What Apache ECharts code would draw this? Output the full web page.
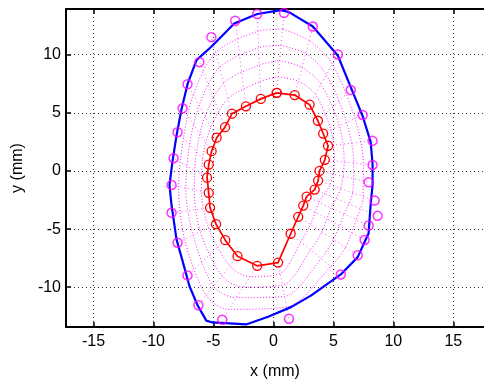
<!DOCTYPE html>
<html>
<head>
<meta charset="utf-8">
<script src="https://cdn.jsdelivr.net/npm/echarts@6/dist/echarts.min.js"></script>
<style>html,body{margin:0;padding:0;background:#fff;}#c{width:484px;height:385px;}</style>
</head>
<body>
<div id="c"></div>
<script>
// Outer boundary (blue line), x,y in mm
var outerX = [0.64,1.30,3.29,5.37,6.45,7.44,8.11,8.27,8.27,8.11,7.94,7.03,5.62,3.13,1.47,-0.44,-2.27,-5.09,-5.59,-6.33,-7.00,-7.66,-8.07,-8.49,-8.66,-8.41,-8.07,-7.66,-7.16,-6.41,-5.09,-3.26,-1.35,0.64];
var outerY = [13.83,13.66,12.42,9.93,7.21,4.73,2.50,0.60,-1.21,-2.87,-5.35,-7.41,-8.90,-10.72,-11.71,-12.54,-13.20,-13.03,-12.87,-11.54,-9.89,-7.41,-5.92,-2.95,-1.21,0.85,3.08,5.31,7.46,9.53,10.77,12.68,13.50,13.83];
// Outer measured points (magenta circles)
var ptsX = [0.89,3.29,5.37,6.45,7.44,8.27,8.27,7.94,8.44,8.69,7.94,7.61,7.03,5.62,1.30,-4.26,-6.25,-7.16,-7.99,-8.49,-8.49,-8.32,-7.99,-7.57,-7.16,-6.17,-5.17,-3.18,-1.35];
var ptsY = [13.58,12.42,10.02,6.96,4.82,2.59,0.52,-0.97,-2.54,-3.86,-4.69,-5.93,-7.25,-8.90,-12.71,-12.79,-11.55,-8.98,-6.17,-3.60,-1.21,1.10,3.33,5.39,7.46,9.36,11.51,12.92,13.50];
// Inner contour (red)
var innerX = [0.28,1.78,3.02,3.71,4.15,4.56,4.29,3.85,3.73,3.44,2.77,2.49,2.07,1.44,0.39,-1.35,-2.99,-4.01,-4.78,-5.28,-5.39,-5.53,-5.39,-5.15,-4.73,-4.03,-3.45,-2.29,-1.05,0.28];
var innerY = [6.72,6.53,5.70,4.32,3.22,2.17,0.96,0.00,-0.83,-1.60,-2.21,-2.98,-3.94,-5.40,-7.88,-8.16,-7.33,-5.95,-4.58,-3.17,-1.88,-0.58,0.55,1.70,2.86,3.77,4.93,5.56,6.20,6.72];
// Intermediate dotted contours (magenta)
var c1X = [0.4,2.1,3.5,4.8,5.1,4.7,3.8,3.1,2.3,0.6,-1.9,-3.6,-5.4,-6.0,-5.9,-5.2,-3.8,-1.1,0.4];
var c1Y = [8.1,7.7,6.6,3.5,0.9,-1.2,-2.7,-4.6,-6.1,-8.8,-9.1,-8.2,-4.9,-1.7,1.1,3.8,6.2,7.7,8.1];
var c2X = [0.5,2.4,4.0,5.5,5.9,5.6,4.8,4.0,3.1,0.8,-2.5,-4.3,-6.1,-6.6,-6.4,-5.7,-4.1,-1.2,0.5];
var c2Y = [9.5,8.9,7.4,3.9,0.8,-1.5,-3.2,-5.3,-6.8,-9.8,-10.0,-9.0,-5.2,-1.6,1.7,4.7,7.6,9.1,9.5];
var c3X = [0.6,2.7,4.4,6.1,6.7,6.6,5.9,5.0,4.0,0.9,-3.1,-5.0,-6.7,-7.3,-7.0,-6.2,-4.5,-1.2,0.6];
var c3Y = [10.8,10.1,8.3,4.2,0.7,-1.9,-3.7,-5.9,-7.5,-10.8,-10.9,-9.9,-5.5,-1.5,2.2,5.6,8.9,10.6,10.8];
var c4X = [0.8,3.0,4.9,6.8,7.5,7.5,6.9,6.0,4.8,1.1,-3.7,-5.6,-7.4,-7.9,-7.5,-6.7,-4.8,-1.3,0.8];
var c4Y = [12.2,11.2,9.2,4.5,0.6,-2.2,-4.2,-6.6,-8.2,-11.7,-11.9,-10.7,-5.9,-1.3,2.8,6.5,10.2,12.0,12.2];
var xTicks = [-15,-10,-5,0,5,10,15];
var yTicks = [-10,-5,0,5,10];

function zip(a,b){return a.map(function(v,i){return [v,b[i]];});}
var chart = echarts.init(document.getElementById('c'), null, {renderer:'canvas'});
var font = 'Liberation Sans, Arial, Helvetica, sans-serif';
var gridDot = {type:[1,3], color:'#000', width:1, opacity:0.8};
var dotted = function(d){
  return {type:'line', data:d, showSymbol:false, symbol:'none', smooth:0.3, z:1,
    lineStyle:{color:'#ff00ff', width:1, type:[1,2], opacity:0.9}, silent:true};
};
// radial mesh links between each inner point and its outer measured point
var radial = ptsX.map(function(v,i){
  return {coords:[[innerX[i],innerY[i]],[ptsX[i],ptsY[i]]]};
});
var tickStyle = {show:true, inside:true, length:5, lineStyle:{color:'#000', width:1.5}};
chart.setOption({
  animation:false,
  grid:{left:66, right:-2, top:9, bottom:46, show:false},
  xAxis:[{
    type:'value', min:-17.29, max:17.56,
    position:'bottom',
    axisLine:{show:true, onZero:false, lineStyle:{color:'#000', width:2}},
    axisTick:Object.assign({customValues:xTicks}, tickStyle),
    axisLabel:{color:'#000', fontSize:16, fontFamily:font, margin:7, customValues:xTicks},
    splitLine:{show:true, lineStyle:gridDot},
    name:'x (mm)', nameLocation:'middle', nameGap:37,
    nameTextStyle:{color:'#000', fontSize:16, fontFamily:font}
  },{
    type:'value', min:-17.29, max:17.56, position:'top',
    axisLine:{show:true, onZero:false, lineStyle:{color:'#000', width:2}},
    axisTick:Object.assign({customValues:xTicks}, tickStyle),
    axisLabel:{show:false}, splitLine:{show:false}
  }],
  yAxis:[{
    type:'value', min:-13.42, max:13.93,
    axisLine:{show:true, onZero:false, lineStyle:{color:'#000', width:2}},
    axisTick:Object.assign({customValues:yTicks}, tickStyle),
    axisLabel:{color:'#000', fontSize:16, fontFamily:font, margin:5, customValues:yTicks},
    splitLine:{show:true, lineStyle:gridDot},
    name:'y (mm)', nameLocation:'middle', nameGap:40, nameRotate:90,
    nameTextStyle:{color:'#000', fontSize:16, fontFamily:font}
  }],
  series:[
    dotted(zip(c1X,c1Y)), dotted(zip(c2X,c2Y)), dotted(zip(c3X,c3Y)), dotted(zip(c4X,c4Y)),
    {type:'lines', coordinateSystem:'cartesian2d', data:radial, z:1, silent:true,
      lineStyle:{color:'#ff00ff', width:1, type:[1,3], opacity:0.7}},
    {type:'line', data:zip(outerX,outerY), showSymbol:false, symbol:'none', z:3,
      lineStyle:{color:'#0000ff', width:2.2}, silent:true},
    {type:'scatter', data:zip(ptsX,ptsY), symbol:'circle', symbolSize:9, z:4,
      itemStyle:{color:'rgba(0,0,0,0)', borderColor:'#ff00ff', borderWidth:1.5}, silent:true},
    {type:'line', data:zip(innerX,innerY), symbol:'circle', symbolSize:9, showAllSymbol:true, z:5,
      lineStyle:{color:'#ff0000', width:1.7}, itemStyle:{color:'rgba(0,0,0,0)', borderColor:'#ff0000', borderWidth:1.3}, silent:true}
  ]
});
</script>
</body>
</html>
